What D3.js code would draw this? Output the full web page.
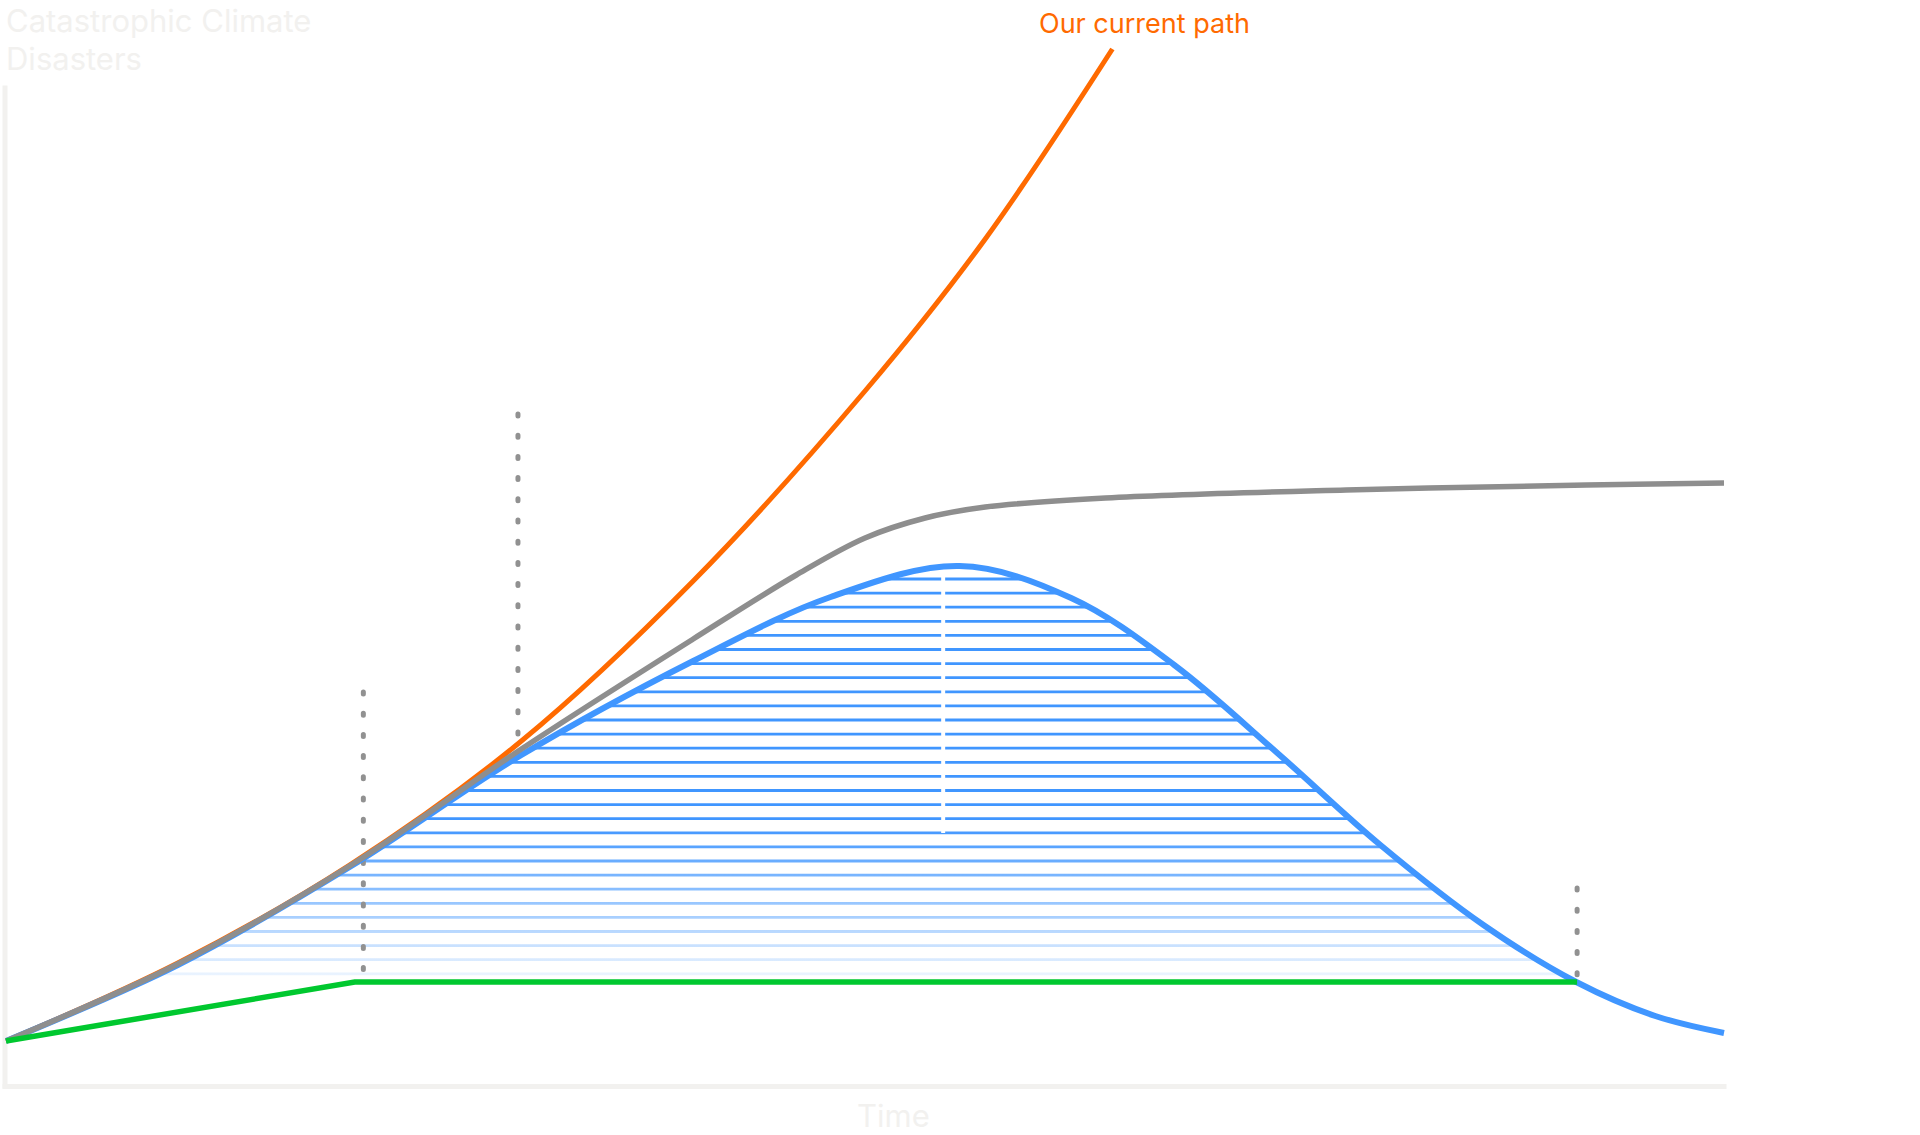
<!DOCTYPE html>
<html>
<head>
<meta charset="utf-8">
<script src="https://cdn.jsdelivr.net/npm/d3@7"></script>
<style>
  body { margin: 0; background: #fff; }
  svg { display: block; font-family: Inter, "Noto Sans", sans-serif; }
</style>
</head>
<body>
<div id="chart"></div>
<script>
(function() {
    'use strict';

    // time (0-100) vs disasters (0-100)
    const currentPath = [[0,0],[10,7.8],[20,17.6],[30,30],[40,46],[50,65],[57,80.2],[64.4,99.2]];
    const plateauPath = [[0,0],[10,7.7],[20,17.5],[30,29.2],[40,40.2],[46,46.6],[50,50.3],[53.5,52.3],[57,53.4],[64,54.3],[78,55.1],[92,55.6],[100,55.8]];
    const peakPath = [[0,0],[10,7.6],[20,17.4],[30,28.6],[40,38],[48,44.4],[55.5,47.5],[62,44.3],[68,37.6],[74,28.8],[80,19.6],[86,11.6],[91.4,5.9],[96,2.5],[100,0.8]];
    const safePath = [[0,0],[20.3,5.9],[91.45,5.9]];
    // vertical dotted markers: time, top value, bottom value
    const markers = [[20.8,34.9,5.9],[29.8,62.7,27],[91.45,15.3,5.9]];

    const width = 1920, height = 1135;

    const svg = d3.select("#chart").append("svg")
        .attr("width", width)
        .attr("height", height);

    const x = d3.scaleLinear().domain([0,100]).range([6,1724]);
    const y = d3.scaleLinear().domain([0,100]).range([1041,41]);

    // axes (no ticks, only the domain line)
    const xAxisScale = x.copy().domain([x.invert(2), x.invert(1726)]).range([2,1726]);
    const yAxisScale = y.copy().domain([y.invert(1088), y.invert(85)]).range([1088,85]);

    svg.append("g")
        .attr("transform", "translate(0," + 1086 + ")")
        .call(d3.axisBottom(xAxisScale).ticks(0).tickSizeOuter(0))
        .call(g => g.select(".domain").attr("stroke", "#f2f1ef").attr("stroke-width", 5));

    svg.append("g")
        .attr("transform", "translate(4.5,0)")
        .call(d3.axisLeft(yAxisScale).ticks(0).tickSizeOuter(0))
        .call(g => g.select(".domain").attr("stroke", "#f2f1ef").attr("stroke-width", 5));

    svg.append("text")
        .attr("x", 6).attr("y", 32)
        .attr("font-size", 31).attr("fill", "#f2f1ef")
        .selectAll("tspan")
        .data(["Catastrophic Climate", "Disasters"])
        .enter().append("tspan")
        .attr("x", 6)
        .attr("dy", (d, i) => i ? 38 : 0)
        .text(d => d);

    svg.append("text")
        .attr("x", 857).attr("y", 1127)
        .attr("font-size", 31).attr("fill", "#f2f1ef")
        .text("Time");

    const line = d3.line()
        .x(d => x(d[0]))
        .y(d => y(d[1]))
        .curve(d3.curveCatmullRom.alpha(0.5));

    // hatch under the peak curve
    const defs = svg.append("defs");
    defs.append("clipPath").attr("id", "peakClip")
        .append("path")
        .attr("d", d3.area()
            .x(d => x(d[0]))
            .y0(y(0))
            .y1(d => y(d[1]))
            .curve(d3.curveCatmullRom.alpha(0.5))(peakPath));

    const grad = defs.append("linearGradient")
        .attr("id", "hatchFade")
        .attr("gradientUnits", "userSpaceOnUse")
        .attr("x1", 0).attr("x2", 0)
        .attr("y1", 825).attr("y2", 985);
    grad.append("stop").attr("offset", 0).attr("stop-color", "#4096ff").attr("stop-opacity", 1);
    grad.append("stop").attr("offset", 1).attr("stop-color", "#4096ff").attr("stop-opacity", 0.05);

    const hatchLevels = d3.range(46.2, 6.5, -1.41);
    svg.append("g")
        .attr("clip-path", "url(#peakClip)")
        .selectAll("line")
        .data(hatchLevels)
        .enter().append("line")
        .attr("x1", x(0)).attr("x2", x(100))
        .attr("y1", d => y(d)).attr("y2", d => y(d))
        .attr("stroke", "url(#hatchFade)")
        .attr("stroke-width", 2.8);

    // white divider at the peak
    svg.append("line")
        .attr("x1", x(54.55)).attr("x2", x(54.55))
        .attr("y1", y(47.8)).attr("y2", y(20.8))
        .attr("stroke", "#fff").attr("stroke-width", 4);

    // dotted markers
    svg.selectAll(".marker")
        .data(markers)
        .enter().append("line")
        .attr("class", "marker")
        .attr("x1", d => x(d[0])).attr("x2", d => x(d[0]))
        .attr("y1", d => y(d[1])).attr("y2", d => y(d[2]))
        .attr("stroke", "#919191")
        .attr("stroke-width", 5)
        .attr("stroke-linecap", "round")
        .attr("stroke-dasharray", "2 19.2");

    svg.append("path").datum(currentPath)
        .attr("d", line).attr("fill", "none")
        .attr("stroke", "#ff6a00").attr("stroke-width", 5);

    svg.append("path").datum(peakPath)
        .attr("d", line).attr("fill", "none")
        .attr("stroke", "#4096ff").attr("stroke-width", 6);

    svg.append("path").datum(plateauPath)
        .attr("d", line).attr("fill", "none")
        .attr("stroke", "#8e8e8e").attr("stroke-width", 5.5);

    svg.append("path").datum(safePath)
        .attr("d", d3.line().x(d => x(d[0])).y(d => y(d[1])))
        .attr("fill", "none")
        .attr("stroke", "#00c82f").attr("stroke-width", 5.5);

    svg.append("text")
        .attr("x", 1039).attr("y", 33)
        .attr("font-size", 27).attr("fill", "#ff6a00")
        .text("Our current path");

})();
</script>
</body>
</html>
